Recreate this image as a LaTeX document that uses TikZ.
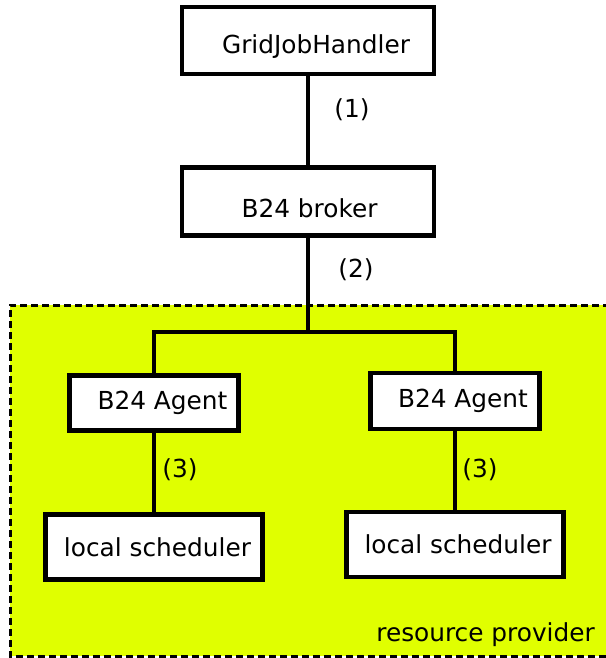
\documentclass[tikz,border=0pt]{standalone}
\usepackage{fontspec}
\setmainfont{DejaVu Sans}
\definecolor{provyellow}{RGB}{224,255,0}
\begin{document}
\begin{tikzpicture}[x=1pt,y=-1pt,
  box/.style={draw=black,line width=4.2pt,fill=white,inner sep=0pt,font=\fontsize{24.8}{30}\selectfont},
  conn/.style={line width=3.8pt},
  lbl/.style={font=\fontsize{24.8}{30}\selectfont,inner sep=0pt}]
\useasboundingbox (0,0) rectangle (605,658);
% resource provider area
\fill[provyellow] (10,305) rectangle (610,656);
\draw[line width=3pt,dash pattern=on 7pt off 4pt] (610,305) -- (10,305) -- (10,656) -- (610,656);
\node[lbl,anchor=base east] (rp) at (595,641) {resource provider};
% connectors (drawn first, boxes cover their ends)
\coordinate (split) at (308,332);
% boxes
\node[box,minimum width=252,minimum height=67,text height=31pt,text depth=5pt] (gjh) at (308,40.5) {\hspace*{16pt}GridJobHandler};
\node[box,minimum width=252,minimum height=68,text height=31pt,text depth=0pt] (brk) at (308,201.5) {\hspace*{3pt}B24 broker};
\node[box,minimum width=169,minimum height=55] (agl) at (154,403) {\hspace*{17pt}B24 Agent};
\node[box,minimum width=169,minimum height=56] (agr) at (455,401) {\hspace*{16pt}B24 Agent};
\node[box,minimum width=217,minimum height=65] (lsl) at (154,547) {\hspace*{7pt}local scheduler};
\node[box,minimum width=217,minimum height=65] (lsr) at (455,544.5) {\hspace*{6pt}local scheduler};
\draw[conn] (gjh.south) -- (brk.north);
\draw[conn] (brk.south) -- (split);
\draw[conn,line join=miter] (agl.north) |- (split) -| (agr.north);
\draw[conn] (agl.south) -- (lsl.north);
\draw[conn] (agr.south) -- (lsr.north);
% labels
\node[lbl] (l1) at (352,110) {(1)};
\node[lbl] (l2) at (356,270) {(2)};
\node[lbl] (l3a) at (180,470) {(3)};
\node[lbl] (l3b) at (480,470) {(3)};
\end{tikzpicture}
\end{document}
